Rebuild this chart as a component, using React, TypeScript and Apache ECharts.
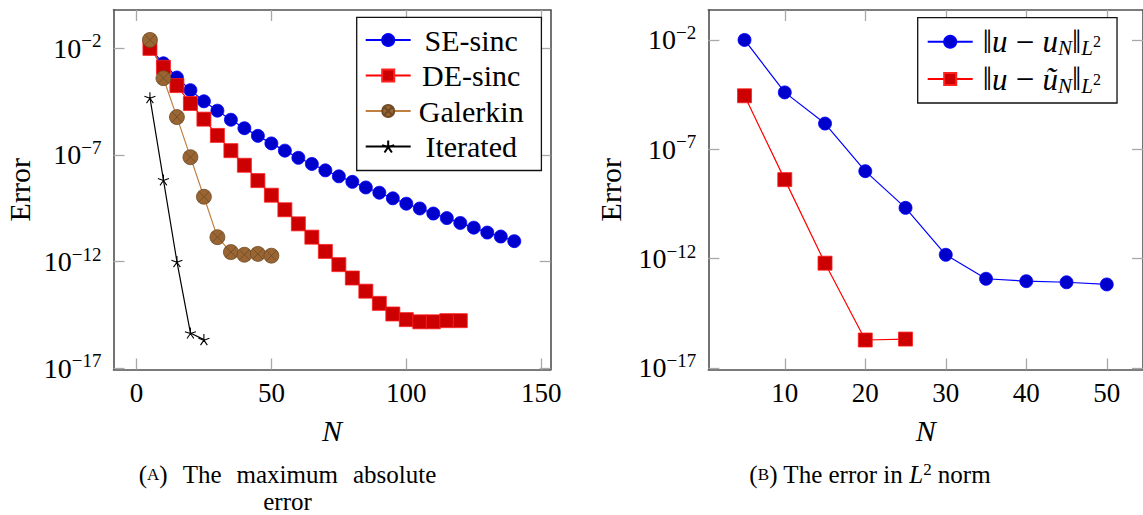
import { useEffect, useRef } from "react";
import * as echarts from "echarts";

// ---------- data (left: maximum absolute error) ----------
const seN = [5, 10, 15, 20, 25, 30, 35, 40, 45, 50, 55, 60, 65, 70, 75, 80, 85, 90, 95, 100, 105, 110, 115, 120, 125, 130, 135, 140];
const seErr = [1.0e-2, 2.0e-3, 4.3e-4, 1.1e-4, 3.3e-5, 1.2e-5, 4.5e-6, 1.8e-6, 7.9e-7, 3.5e-7, 1.6e-7, 7.4e-8, 3.8e-8, 1.9e-8, 1.0e-8, 5.5e-9, 3.0e-9, 1.7e-9, 9.3e-10, 5.2e-10, 3.1e-10, 1.8e-10, 1.1e-10, 6.5e-11, 3.9e-11, 2.3e-11, 1.5e-11, 9.1e-12];
const deN = [5, 10, 15, 20, 25, 30, 35, 40, 45, 50, 55, 60, 65, 70, 75, 80, 85, 90, 95, 100, 105, 110, 115, 120];
const deErr = [1.0e-2, 1.3e-3, 1.8e-4, 2.6e-5, 4.8e-6, 8.3e-7, 1.6e-7, 3.3e-8, 6.3e-9, 1.3e-9, 2.7e-10, 5.9e-11, 1.4e-11, 3.0e-12, 7.2e-13, 1.7e-13, 4.1e-14, 1.1e-14, 3.5e-15, 1.9e-15, 1.5e-15, 1.5e-15, 1.7e-15, 1.7e-15];
const galN = [5, 10, 15, 20, 25, 30, 35, 40, 45, 50];
const galErr = [2.5e-2, 4.0e-4, 6.0e-6, 7.9e-8, 1.1e-9, 1.4e-11, 2.8e-12, 2.1e-12, 2.3e-12, 1.9e-12];
const itN = [5, 10, 15, 20, 25];
const itErr = [4.9e-5, 6.8e-9, 1.0e-12, 4.5e-16, 2.2e-16];

// ---------- data (right: L2 norm error) ----------
const l2N = [5, 10, 15, 20, 25, 30, 35, 40, 45, 50];
const l2Err = [1.0e-2, 4.0e-5, 1.5e-6, 1.0e-8, 2.1e-10, 1.5e-12, 1.2e-13, 9.3e-14, 8.3e-14, 6.6e-14];
const l2tN = [5, 10, 15, 20, 25];
const l2tErr = [2.8e-5, 4.1e-9, 6.2e-13, 1.9e-16, 2.1e-16];

// ---------- ticks ----------
const leftXTicks = [0, 50, 100, 150];
const rightXTicks = [10, 20, 30, 40, 50];
const yTickExps = [-17, -12, -7, -2];

const seriesNames = ["SE-sinc", "DE-sinc", "Galerkin", "Iterated"];
const l2Names = ["‖u − uN‖L2", "‖u − ũN‖L2"];

const FONT = "'Liberation Serif', 'DejaVu Serif', serif";

const STAR = "path://M0,0L0,-1M0,0L0.951,-0.309M0,0L0.588,0.809M0,0L-0.588,0.809M0,0L-0.951,-0.309";
const OTIMES = "path://M1,0A1,1,0,1,1,-1,0A1,1,0,1,1,1,0ZM-0.707,-0.707L0.707,0.707M0.707,-0.707L-0.707,0.707";

const toPts = (xs: number[], ys: number[]) => xs.map((x, i) => [x, Math.log10(ys[i])]);

const tickStyle = { color: "#a8a8a8", width: 1.3 };
const lineStyleAxis = { color: "#505050", width: 1.6 };

function xAxes(grid: number, min: number, max: number, ticks: number[], name: string) {
  return [
    {
      type: "value", gridIndex: grid, position: "bottom", min, max,
      name, nameLocation: "middle", nameGap: 46,
      nameTextStyle: { fontFamily: FONT, fontSize: 30, fontStyle: "italic", color: "#000" },
      axisLine: { show: true, onZero: false, lineStyle: lineStyleAxis },
      axisTick: { show: true, inside: true, length: 11, lineStyle: tickStyle, customValues: ticks },
      axisLabel: { show: true, customValues: ticks, margin: 10, fontFamily: FONT, fontSize: 27, color: "#000" },
      splitLine: { show: false },
    },
    {
      type: "value", gridIndex: grid, position: "top", min, max,
      axisLine: { show: true, onZero: false, lineStyle: lineStyleAxis },
      axisTick: { show: true, inside: true, length: 11, lineStyle: tickStyle, customValues: ticks },
      axisLabel: { show: false },
      splitLine: { show: false },
    },
  ];
}

function yAxes(grid: number, min: number, max: number, gap: number) {
  return [
    {
      type: "value", gridIndex: grid, position: "left", min, max,
      name: "Error", nameLocation: "middle", nameGap: gap, nameRotate: 90,
      nameTextStyle: { fontFamily: FONT, fontSize: 30, color: "#000" },
      axisLine: { show: true, onZero: false, lineStyle: lineStyleAxis },
      axisTick: { show: true, inside: true, length: 11, lineStyle: tickStyle, customValues: yTickExps },
      axisLabel: {
        show: true, customValues: yTickExps, margin: 12,
        formatter: (v: number) => `{b|10}{s|−${Math.abs(Math.round(v))}}`,
        rich: {
          b: { fontFamily: FONT, fontSize: 28, lineHeight: 34, color: "#000" },
          s: { fontFamily: FONT, fontSize: 19, lineHeight: 14, verticalAlign: "top", color: "#000" },
        },
      },
      splitLine: { show: false },
    },
    {
      type: "value", gridIndex: grid, position: "right", min, max,
      axisLine: { show: true, onZero: false, lineStyle: lineStyleAxis },
      axisTick: { show: true, inside: true, length: 11, lineStyle: tickStyle, customValues: yTickExps },
      axisLabel: { show: false },
      splitLine: { show: false },
    },
  ];
}

const blueStyle = {
  symbol: "circle", symbolSize: 13,
  lineStyle: { color: "#0000ff", width: 1.2 },
  itemStyle: { color: "#0000cc", borderColor: "#0000ff", borderWidth: 0.8 },
};
const redStyle = {
  symbol: "rect", symbolSize: 14,
  lineStyle: { color: "#ff0000", width: 1.2 },
  itemStyle: { color: "#cc0000", borderColor: "#ff2020", borderWidth: 0.8 },
};

export default function App() {
  const ref = useRef<HTMLDivElement>(null);
  useEffect(() => {
    if (!ref.current) return;
    const chart = echarts.init(ref.current, null, { renderer: "svg" });
    const x0 = xAxes(0, -8.5, 153.5, leftXTicks, "N");
    const x1 = xAxes(1, 0.5, 54.5, rightXTicks, "N");
    const y0 = yAxes(0, -17.06, -0.2, 79);
    const y1 = yAxes(1, -17.07, -0.63, 83);
    const capText = { fontFamily: FONT, fontSize: 25, lineHeight: 27, fontWeight: "normal", color: "#000" };
    const capSc = { fontFamily: FONT, fontSize: 17, lineHeight: 27, fontWeight: "normal", color: "#000" };
    const option: any = {
      animation: false,
      backgroundColor: "#fff",
      textStyle: { fontFamily: FONT },
      grid: [
        { left: 113.5, top: 10, width: 437.2, height: 359.5, containLabel: false },
        { left: 708.3, top: 10, width: 436.7, height: 359.5, containLabel: false },
      ],
      xAxis: [...x0, ...x1],
      yAxis: [...y0, ...y1],
      legend: [
        {
          data: seriesNames, orient: "vertical", left: 356.7, top: 17.3,
          padding: [7.7, 14.7, 9, 8], itemGap: 5.5, itemWidth: 45, itemHeight: 15,
          backgroundColor: "#fff", borderColor: "#111", borderWidth: 1.3, borderRadius: 0,
          selectedMode: false,
          formatter: (n: string) => `{c|${n}}`,
          textStyle: {
            rich: { c: { fontFamily: FONT, fontSize: 30, lineHeight: 30, width: 111, align: "center", color: "#000" } },
          },
        },
        {
          data: l2Names, orient: "vertical", left: 917.7, top: 17.7,
          padding: [7.6, 16, 7, 9], itemGap: 3.7, itemWidth: 45, itemHeight: 15,
          backgroundColor: "#fff", borderColor: "#111", borderWidth: 1.3, borderRadius: 0,
          selectedMode: false,
          formatter: (n: string) =>
            n === l2Names[0]
              ? `{r|‖}{m|u}{r| − }{m|u}{sub|N}{r|‖}{sub|L}{sup|2}`
              : `{r|‖}{m|u}{r| − }{m|ũ}{sub|N}{r|‖}{sub|L}{sup|2}`,
          textStyle: {
            padding: [0, 0, 0, 5],
            rich: {
              r: { fontFamily: FONT, fontSize: 33, lineHeight: 34, color: "#000" },
              m: { fontFamily: FONT, fontSize: 31, fontStyle: "italic", lineHeight: 34, color: "#000" },
              sub: { fontFamily: FONT, fontSize: 21, fontStyle: "italic", lineHeight: 12, verticalAlign: "bottom", color: "#000" },
              sup: { fontFamily: FONT, fontSize: 16, lineHeight: 34, color: "#000" },
            },
          },
        },
      ],
      title: [
        {
          text: "{t|(}{sc|A}{w|)}{w|The}{w|maximum}{t|absolute}\n{t|error}",
          left: 287.5, top: 461, textAlign: "center", padding: 0,
          textStyle: {
            fontWeight: "normal",
            rich: {
              t: capText,
              sc: capSc,
              w: { ...capText, padding: [0, 15, 0, 0] },
            },
          },
        },
        {
          text: "{t|(}{sc|B}{t|) The error in }{i|L}{sup|2}{t| norm}",
          left: 870, top: 461, textAlign: "center", padding: 0,
          textStyle: {
            fontWeight: "normal",
            rich: {
              t: capText,
              sc: capSc,
              i: { ...capText, fontStyle: "italic" },
              sup: { fontFamily: FONT, fontSize: 17, lineHeight: 14, verticalAlign: "top", fontWeight: "normal", color: "#000" },
            },
          },
        },
      ],
      series: [
        { name: seriesNames[0], type: "line", xAxisIndex: 0, yAxisIndex: 0, data: toPts(seN, seErr), ...blueStyle },
        { name: seriesNames[1], type: "line", xAxisIndex: 0, yAxisIndex: 0, data: toPts(deN, deErr), ...redStyle },
        {
          name: seriesNames[2], type: "line", xAxisIndex: 0, yAxisIndex: 0, data: toPts(galN, galErr),
          symbol: OTIMES, symbolSize: 15,
          lineStyle: { color: "#bf8040", width: 1.2 },
          itemStyle: { color: "#996633", borderColor: "#6e4a25", borderWidth: 0.8 },
        },
        {
          name: seriesNames[3], type: "line", xAxisIndex: 0, yAxisIndex: 0, data: toPts(itN, itErr),
          symbol: STAR, symbolSize: 11,
          lineStyle: { color: "#000", width: 1.2 },
          itemStyle: { color: "rgba(0,0,0,0)", borderColor: "#000", borderWidth: 1.1 },
        },
        { name: l2Names[0], type: "line", xAxisIndex: 2, yAxisIndex: 2, data: toPts(l2N, l2Err), ...blueStyle },
        { name: l2Names[1], type: "line", xAxisIndex: 2, yAxisIndex: 2, data: toPts(l2tN, l2tErr), ...redStyle },
      ],
    };
    chart.setOption(option);
    return () => chart.dispose();
  }, []);
  return (
    <div
      ref={ref}
      style={{ position: "absolute", left: 0, top: 0, width: 1143, height: 515, background: "#fff" }}
    />
  );
}
